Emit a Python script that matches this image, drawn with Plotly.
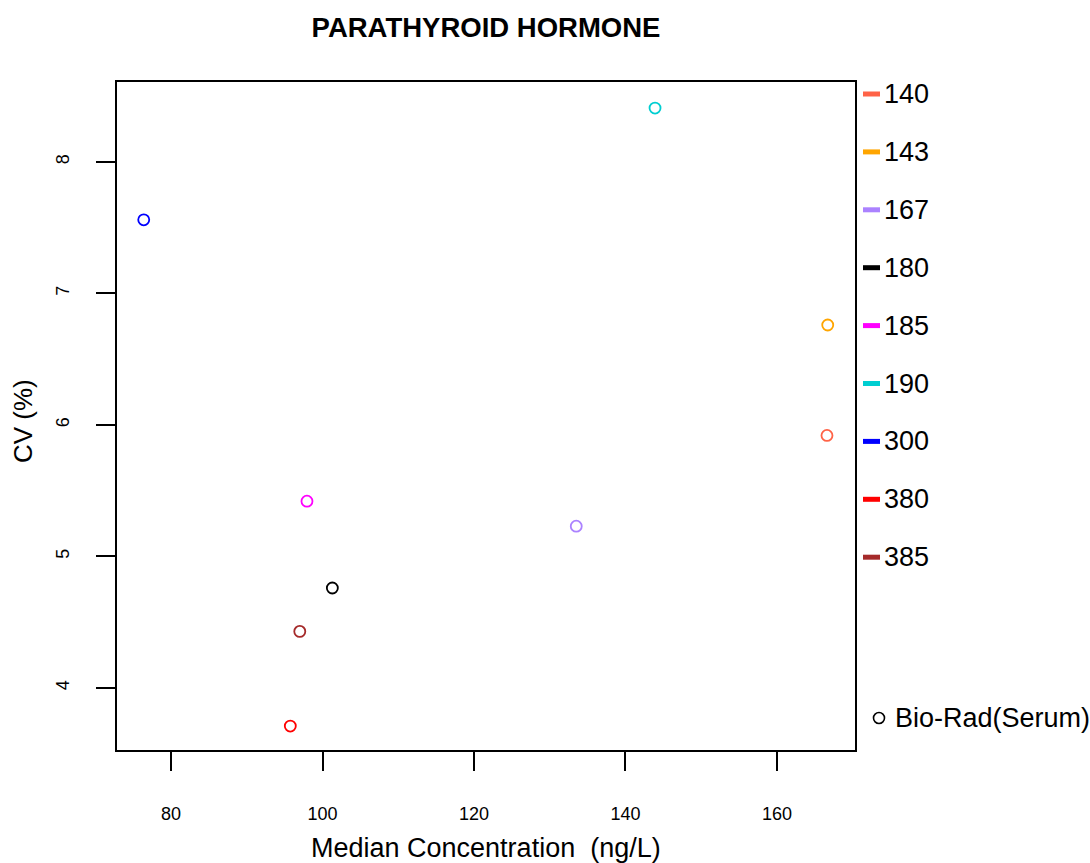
import plotly.graph_objects as go

# ---- data ----
labels = ["140", "143", "167", "180", "185", "190", "300", "380", "385"]
colors = ["#FF6347", "#FFA500", "#AB82FF", "#000000", "#FF00FF", "#00CED1", "#0000FF", "#FF0000", "#A52A2A"]
median_conc = [166.6, 166.7, 133.5, 101.3, 97.95, 143.9, 76.4, 95.75, 97.0]
cv_pct = [5.92, 6.76, 5.23, 4.76, 5.42, 8.41, 7.56, 3.71, 4.43]
x_ticks = [80, 100, 120, 140, 160]
y_ticks = [4, 5, 6, 7, 8]
material = "Bio-Rad(Serum)"

W, H = 1090, 863
ML, MR, MT, MB = 117, 235, 82, 113
PW, PH = W - ML - MR, H - MT - MB
FONT = "Liberation Sans, Arial, sans-serif"

fig = go.Figure()
for lab, col, xv, yv in zip(labels, colors, median_conc, cv_pct):
    fig.add_trace(go.Scatter(
        x=[xv], y=[yv], mode="markers", name=lab, showlegend=False,
        marker=dict(symbol="circle-open", size=11, color=col, line=dict(width=1.8, color=col)),
    ))

shapes = []
annotations = []
# legend (drawn in paper coordinates to match R layout)
step = 57.9
for i, (lab, col) in enumerate(zip(labels, colors)):
    ypx = 94 + i * step
    yp = 1 - (ypx - MT) / PH
    shapes.append(dict(type="line", xref="paper", yref="paper",
                       x0=1 + (863 - ML - PW) / PW, x1=1 + (880 - ML - PW) / PW,
                       y0=yp, y1=yp, line=dict(color=col, width=5)))
    annotations.append(dict(text=lab, xref="paper", yref="paper",
                            x=1 + (882 - ML - PW) / PW, y=yp, xanchor="left", yanchor="middle",
                            showarrow=False, font=dict(family=FONT, size=27, color="#000")))
ypx = 718
yp = 1 - (ypx - MT) / PH
r = 5.5
shapes.append(dict(type="circle", xref="paper", yref="paper",
                   x0=(879 - r - ML) / PW, x1=(879 + r - ML) / PW,
                   y0=yp - r / PH, y1=yp + r / PH, line=dict(color="#000", width=1.6)))
annotations.append(dict(text=material, xref="paper", yref="paper",
                        x=(893 - ML) / PW, y=yp, xanchor="left", yanchor="middle",
                        showarrow=False, font=dict(family=FONT, size=27, color="#000")))
# axis titles
annotations.append(dict(text="Median Concentration  (ng/L)", xref="paper", yref="paper",
                        x=0.5, y=-(848 - MT - PH) / PH, xanchor="center", yanchor="middle",
                        showarrow=False, font=dict(family=FONT, size=27, color="#000")))
annotations.append(dict(text="CV (%)", xref="paper", yref="paper",
                        x=-(ML - 23) / PW, y=1 - (421 - MT) / PH, xanchor="center", yanchor="middle",
                        textangle=-90, showarrow=False, font=dict(family=FONT, size=26, color="#000")))

axis_common = dict(showgrid=False, zeroline=False, showline=True, mirror=True,
                   linecolor="#000", linewidth=1.5, ticks="outside", ticklen=19,
                   tickwidth=1.5, tickcolor="#000",
                   tickfont=dict(family=FONT, size=18, color="#000"))

fig.update_layout(
    width=W, height=H,
    margin=dict(l=ML, r=MR, t=MT, b=MB, pad=0),
    paper_bgcolor="white", plot_bgcolor="white",
    title=dict(text="<b>PARATHYROID HORMONE</b>", x=(486) / W, y=1 - 27 / H,
               xanchor="center", yanchor="middle", font=dict(family=FONT, size=27.5, color="#000")),
    xaxis=dict(range=[72.87, 170.3], tickvals=x_ticks, ticklabelstandoff=28, **axis_common),
    yaxis=dict(range=[3.528, 8.608], tickvals=y_ticks, tickangle=-90, ticklabelstandoff=20, **axis_common),
    shapes=shapes, annotations=annotations, showlegend=False,
)
fig.write_html("out.html")
